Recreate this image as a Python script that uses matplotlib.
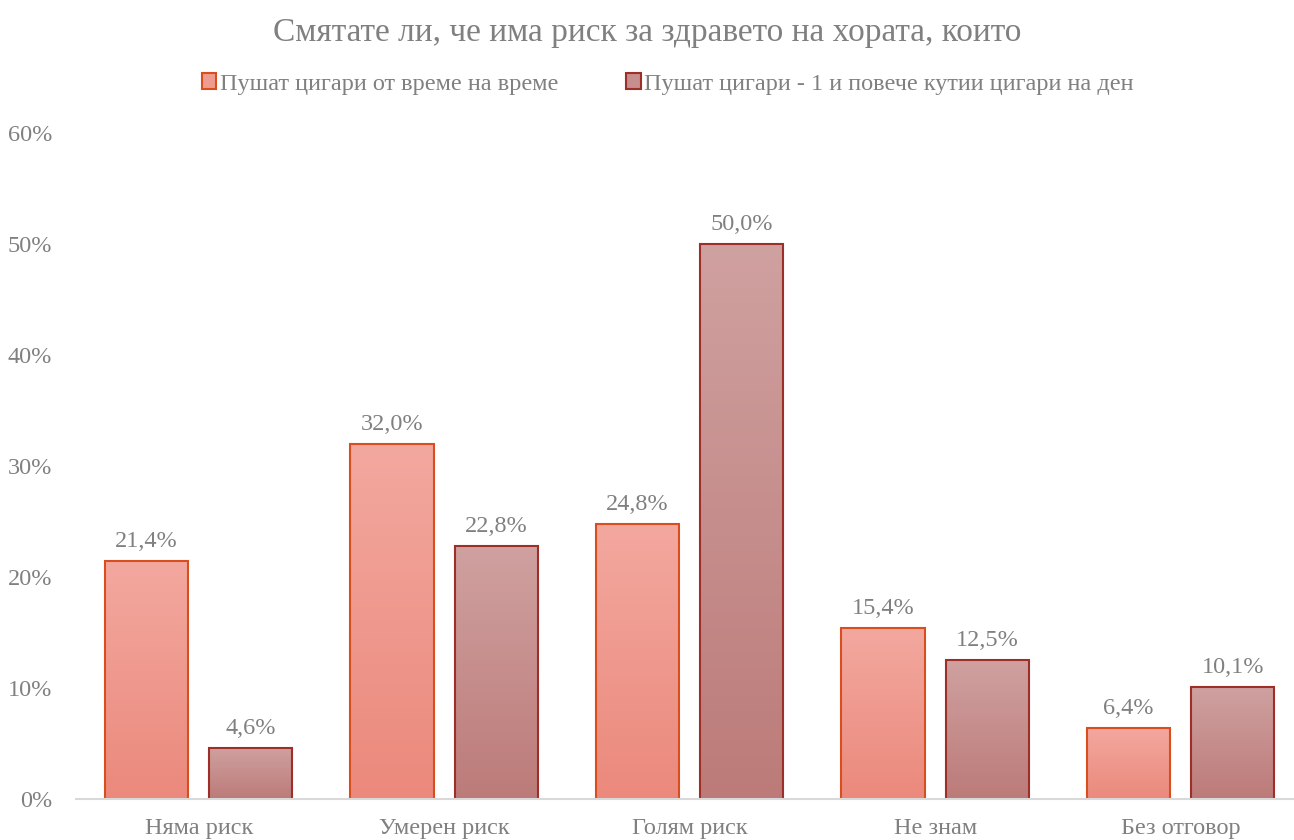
import numpy as np
import matplotlib
matplotlib.use("Agg")
import matplotlib.pyplot as plt
from matplotlib.colors import LinearSegmentedColormap
from matplotlib.patches import Patch

categories = ["Няма риск", "Умерен риск", "Голям риск", "Не знам", "Без отговор"]
series_names = ["Пушат цигари от време на време",
                "Пушат цигари - 1 и повече кутии цигари на ден"]
occasional = [21.4, 32.0, 24.8, 15.4, 6.4]
heavy = [4.6, 22.8, 50.0, 12.5, 10.1]
yticks = [0, 10, 20, 30, 40, 50, 60]

TEXT = "#808080"
FS = 17.5
plt.rcParams["font.family"] = ["Liberation Serif", "DejaVu Serif"]

styles = [
    {"top": "#F3A89F", "bottom": "#EB897C", "edge": "#D84E1F"},
    {"top": "#CFA1A0", "bottom": "#BC7B79", "edge": "#9E2F28"},
]

fig = plt.figure(figsize=(12.94, 8.4), dpi=100)
ax = fig.add_axes([0.0587, 0.0488, 0.9486, 0.7929])

x = np.arange(len(categories))
width = 0.34
offsets = [-0.212, 0.212]
grad = np.linspace(1, 0, 256).reshape(-1, 1)

for vals, off, st in zip([occasional, heavy], offsets, styles):
    cmap = LinearSegmentedColormap.from_list("g", [st["bottom"], st["top"]])
    bars = ax.bar(x + off, vals, width, facecolor="none", edgecolor=st["edge"],
                  linewidth=1.5, zorder=3)
    for b, v in zip(bars, vals):
        x0 = b.get_x()
        im = ax.imshow(grad, cmap=cmap, aspect="auto", extent=[x0, x0 + width, 0, v],
                       zorder=2, interpolation="bilinear")
        im.set_clip_path(b)
        ax.annotate(f"{v:.1f}%".replace(".", ","), (b.get_x() + width / 2, v),
                    xytext=(0, 9), textcoords="offset pixels", ha="center", va="bottom",
                    fontsize=FS, color=TEXT)

ax.set_xlim(-0.5, len(categories) - 0.5)
ax.set_ylim(0, 60)
ax.set_yticks(yticks, [f"{t}%" for t in yticks])
ax.set_xticks(x, categories)
ax.tick_params(length=0, labelsize=FS, labelcolor=TEXT)
ax.tick_params(axis="y", pad=17)
ax.tick_params(axis="x", pad=13.5)
for s in ["top", "right", "left"]:
    ax.spines[s].set_visible(False)
ax.spines["bottom"].set_color("#D9D9D9")
ax.spines["bottom"].set_linewidth(1.5)
ax.spines["bottom"].set_zorder(4)

fig.text(0.5, 0.961, "Смятате ли, че има риск за здравето на хората, които",
         ha="center", va="center", fontsize=24, color=TEXT)

handles = [Patch(facecolor="#EF9C90", edgecolor=styles[0]["edge"], linewidth=1.5),
           Patch(facecolor="#C68E8C", edgecolor=styles[1]["edge"], linewidth=1.5)]
fig.legend(handles, series_names, loc="center", bbox_to_anchor=(0.516, 0.9), ncol=2,
           frameon=False, fontsize=FS, labelcolor=TEXT, handlelength=0.6,
           handleheight=0.6, handletextpad=0.15, columnspacing=2.8)

fig.savefig("out.png", dpi=100)
